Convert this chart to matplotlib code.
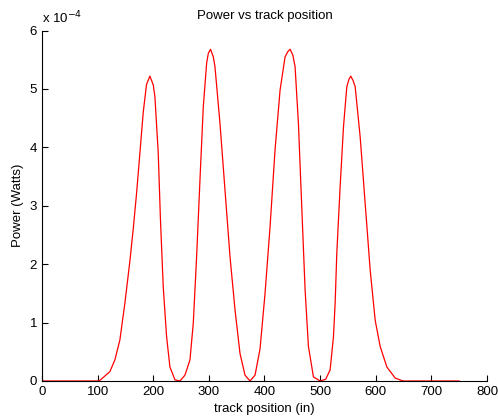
import numpy as np
import matplotlib.pyplot as plt
from matplotlib.ticker import FuncFormatter

plt.rcParams['font.family'] = ['Liberation Sans', 'DejaVu Sans']

# values (track position in inches, power in units of 1e-4 W)
track_pos = [0, 100, 104, 122, 131, 140, 149, 158, 164, 170, 176, 182, 188, 194, 200, 203, 209,
             213, 218, 224, 230, 239, 248, 257, 266, 272, 278, 284, 290, 296, 299, 303,
             308, 311, 320, 329, 338, 347, 356, 365, 374, 383, 392, 401, 410, 419, 428,
             437, 442, 446, 451, 455, 461, 467, 473, 479, 488, 500, 510, 518, 524, 527, 530,
             536, 542, 548, 552, 555, 559, 563, 572, 581, 590, 599, 608, 620, 635, 649, 750]
power_e4 = [0, 0, 0.01, 0.16, 0.36, 0.70, 1.33, 2.05, 2.60, 3.21, 3.90, 4.60, 5.08, 5.22, 5.07, 4.87, 3.90,
            2.76, 1.61, 0.76, 0.24, 0.02, 0, 0.10, 0.36, 0.99, 2.13, 3.44, 4.70, 5.44, 5.61, 5.68,
            5.55, 5.38, 4.41, 3.27, 2.13, 1.22, 0.47, 0.10, 0, 0.10, 0.55, 1.50, 2.64, 3.96, 4.98,
            5.55, 5.64, 5.68, 5.58, 5.38, 4.41, 2.98, 1.56, 0.59, 0.07, 0, 0.03, 0.19, 0.76, 1.33, 2.19,
            3.33, 4.35, 5.04, 5.17, 5.22, 5.15, 5.04, 4.18, 3.04, 1.90, 1.04, 0.59, 0.24, 0.05, 0, 0]

x_ticks = [0, 100, 200, 300, 400, 500, 600, 700, 800]
y_ticks = [0, 1, 2, 3, 4, 5, 6]

power = np.array(power_e4) * 1e-4

fig = plt.figure(figsize=(4.98, 4.19), dpi=100)
ax = fig.add_axes([0.0843, 0.0907, 0.8936, 0.8363])
ax.plot(track_pos, power, color='red', linewidth=0.9)

ax.set_xlim(0, 800)
ax.set_ylim(0, 6e-4)
ax.set_xticks(x_ticks)
ax.set_yticks([v * 1e-4 for v in y_ticks])
ax.yaxis.set_major_formatter(FuncFormatter(lambda v, p: '%g' % round(v / 1e-4, 6)))
ax.tick_params(direction='in', length=4, width=0.8, labelsize=9.5, color='black')
ax.spines['top'].set_visible(False)
ax.spines['right'].set_visible(False)

ax.text(0.0, 1.012, r'x 10$^{-4}$', transform=ax.transAxes, fontsize=9.5, ha='left', va='bottom')
ax.set_title('Power vs track position', fontsize=9.5, pad=8)
ax.set_xlabel('track position (in)', fontsize=9.5, labelpad=4)
ax.set_ylabel('Power (Watts)', fontsize=9.5, labelpad=4)

fig.savefig('out.png', dpi=100)
